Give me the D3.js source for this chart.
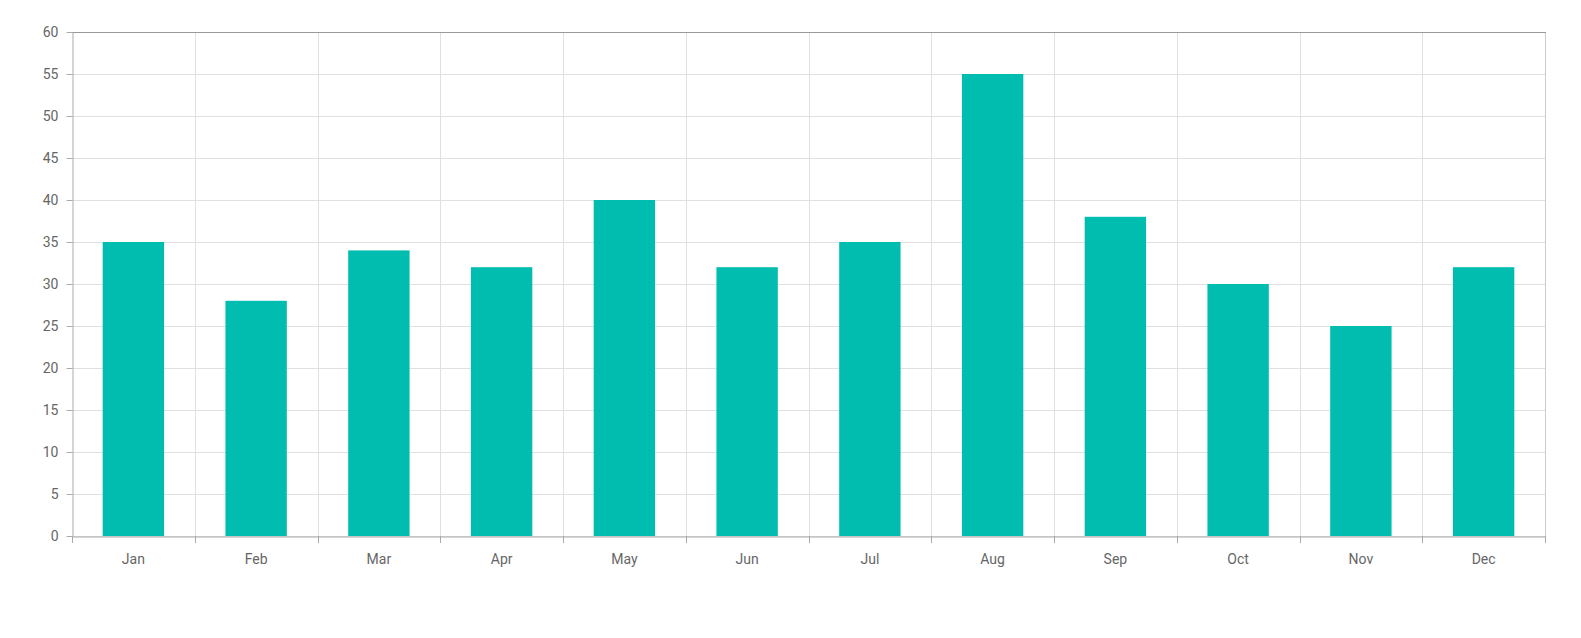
<!DOCTYPE html>
<html><head><meta charset="utf-8">
<script src="https://cdn.jsdelivr.net/npm/d3@7"></script>
<style>body{margin:0;background:#fff}svg{display:block;font-family:Roboto,sans-serif}</style>
</head><body><svg id="c" width="1581" height="638"></svg>
<script>
const categories = ["Jan","Feb","Mar","Apr","May","Jun","Jul","Aug","Sep","Oct","Nov","Dec"];
const values = [35,28,34,32,40,32,35,55,38,30,25,32];
const yTicks = [0,5,10,15,20,25,30,35,40,45,50,55,60];

const svg = d3.select("#c");
const L=72, R=1545, T=32, B=536;
const x = d3.scaleBand().domain(categories).range([L,R]).paddingInner(0).paddingOuter(0);
const y = d3.scaleLinear().domain([0,60]).range([B,T]);

// horizontal grid
svg.append("g").selectAll("line").data(yTicks).join("line")
  .attr("x1",L).attr("x2",R).attr("y1",d=>Math.round(y(d))+0.5).attr("y2",d=>Math.round(y(d))+0.5)
  .attr("stroke","#e0e0e0");
// vertical grid
svg.append("g").selectAll("line").data(categories.slice(1)).join("line")
  .attr("x1",d=>Math.round(x(d))+0.5).attr("x2",d=>Math.round(x(d))+0.5).attr("y1",T).attr("y2",B)
  .attr("stroke","#e0e0e0");
// right border
svg.append("line").attr("x1",R+0.5).attr("x2",R+0.5).attr("y1",T).attr("y2",B).attr("stroke","#ccc");
// top border
svg.append("line").attr("x1",L).attr("x2",R+1).attr("y1",T+0.5).attr("y2",T+0.5).attr("stroke","#999");

// bars
svg.append("g").selectAll("rect").data(values).join("rect")
  .attr("x",(d,i)=>x(categories[i])+x.bandwidth()*0.25)
  .attr("width",x.bandwidth()*0.5)
  .attr("y",d=>y(d)).attr("height",d=>B-y(d))
  .attr("fill","#00bdaf");

// y axis
const ya = svg.append("g").attr("transform",`translate(${L+0.5},0)`)
  .call(d3.axisLeft(y).tickValues(yTicks).tickSize(6).tickSizeOuter(0).tickPadding(8));
ya.select(".domain").attr("stroke","#aaa");
ya.selectAll(".tick line").attr("stroke","#aaa");
ya.selectAll("text").attr("fill","#666").attr("font-size","14px").attr("font-family","Roboto");

// x axis
const xa = svg.append("g").attr("transform",`translate(0,${B+0.5})`)
  .call(d3.axisBottom(x).tickSize(0).tickPadding(18));
xa.select(".domain").attr("stroke","#aaa");
xa.selectAll("text").attr("fill","#666").attr("font-size","14px").attr("font-family","Roboto");
// x tick marks at band boundaries
const bounds = categories.map(c=>x(c)).concat([R]);
svg.append("g").selectAll("line").data(bounds).join("line")
  .attr("x1",d=>Math.round(d)+0.5).attr("x2",d=>Math.round(d)+0.5).attr("y1",B).attr("y2",B+7)
  .attr("stroke","#aaa");
</script></body></html>
